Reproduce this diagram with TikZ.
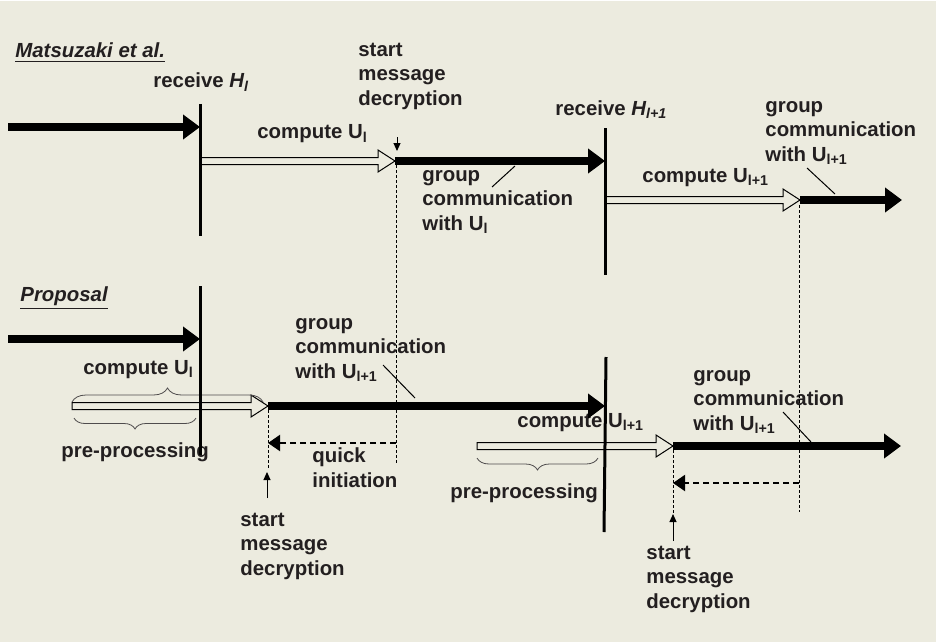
\documentclass[tikz,border=0pt]{standalone}
\usepackage{fontspec}
\setmainfont{Liberation Sans}
\usetikzlibrary{arrows.meta,calc,decorations.pathreplacing}
\definecolor{bgc}{HTML}{ECEBDF}
\definecolor{ink}{HTML}{231F20}
\newcommand\hollowarr[2]{\draw[line width=0.5pt,line join=miter]
  ($(#1)+(0,-3.5)$) -- ($(#2)+(-17,-3.5)$) -- ($(#2)+(-17,-11)$) -- (#2)
  -- ($(#2)+(-17,11)$) -- ($(#2)+(-17,3.5)$) -- ($(#1)+(0,3.5)$) -- cycle;}
\tikzset{
  lbl/.style={font=\fontsize{10.2}{12.2}\selectfont\bfseries, text=ink, inner sep=0pt, anchor=base west, align=left},
  ttl/.style={font=\fontsize{10.2}{12.2}\selectfont\bfseries\itshape, text=ink, inner sep=0pt, anchor=base west},
  thickarr/.style={line width=4.3pt, -{Triangle[length=8.5pt,width=12pt]}},
  bar/.style={line width=1.5pt},
  guide/.style={line width=0.5pt, dash pattern=on 1.5pt off 1pt},
  backarr/.style={line width=1pt, dash pattern=on 3pt off 2pt, -{Triangle[length=6pt,width=8pt]}},
  ptr/.style={line width=0.5pt, -{Triangle[length=4pt,width=3.5pt]}},
  leader/.style={line width=0.5pt},
  brc/.style={line width=0.4pt, draw=ink!80, decorate, decoration={brace, amplitude=#1}},
}
\begin{document}
\begin{tikzpicture}[x=0.5pt,y=-0.5pt]
\useasboundingbox (0,0) rectangle (936,642);
\fill[bgc] (0,0) rectangle (936,642);
\fill[white] (0,0) rectangle (936,1.5);

% ---------- coordinates: Matsuzaki et al. ----------
\coordinate (a1s) at (8,127);   \coordinate (a1e) at (200,127);
\coordinate (v1t) at (200,104); \coordinate (v1b) at (200,236);
\coordinate (h1s) at (200,161); \coordinate (h1e) at (395,161);
\coordinate (t2s) at (395,161); \coordinate (t2e) at (605,161);
\coordinate (v2t) at (605,128); \coordinate (v2b) at (605,275);
\coordinate (h2s) at (605,200); \coordinate (h2e) at (800,200);
\coordinate (t3s) at (800,200); \coordinate (t3e) at (902,200);
\coordinate (g1t) at (396,165); \coordinate (g1b) at (396,463);
\coordinate (g2t) at (799,205); \coordinate (g2b) at (799,512);
\coordinate (p1s) at (397,137); \coordinate (p1e) at (397,151);
\coordinate (l1s) at (492,187); \coordinate (l1e) at (515,166);
\coordinate (l2s) at (807,168); \coordinate (l2e) at (835,194);

% ---------- coordinates: Proposal ----------
\coordinate (a4s) at (8,339);   \coordinate (a4e) at (200,339);
\coordinate (v3t) at (200,286); \coordinate (v3b) at (200,455);
\coordinate (h3s) at (72,406);  \coordinate (h3e) at (268,406);
\coordinate (t5s) at (268,406); \coordinate (t5e) at (605,406);
\coordinate (v4t) at (606,357); \coordinate (v4b) at (604,532);
\coordinate (h4s) at (477,446); \coordinate (h4e) at (673,446);
\coordinate (t7s) at (673,446); \coordinate (t7e) at (901,446);
\coordinate (d1t) at (268,410); \coordinate (d1b) at (268,470);
\coordinate (d2t) at (673,450); \coordinate (d2b) at (673,513);
\coordinate (q1s) at (396,443); \coordinate (q1e) at (268,443);
\coordinate (q2s) at (799,483); \coordinate (q2e) at (673,483);
\coordinate (p2s) at (267,498); \coordinate (p2e) at (267,472);
\coordinate (p3s) at (673,541); \coordinate (p3e) at (673,514);
\coordinate (l3s) at (383,365); \coordinate (l3e) at (415,398);
\coordinate (l4s) at (783,412); \coordinate (l4e) at (811,442);
\coordinate (b1s) at (72,402);  \coordinate (b1e) at (263,402);
\coordinate (b2s) at (196,418); \coordinate (b2e) at (74,418);
\coordinate (b3s) at (598,458); \coordinate (b3e) at (477,458);

% ---------- labels (multi-line nodes are placed by their last baseline) ----------
\node[ttl] (mt) at (15,58) {\underline{Matsuzaki et al.}};
\node[lbl] (rh1) at (153,88) {receive \textit{H\textsubscript{l}}};
\node[lbl] (sm1) at (358,105) {start\\message\\decryption};
\node[lbl] (cu1) at (257,139) {compute U\textsubscript{l}};
\node[lbl] (gc1) at (422,230) {group\\communication\\with U\textsubscript{l}};
\node[lbl] (rh2) at (555,115) {receive \textit{H\textsubscript{l+1}}};
\node[lbl] (cu2) at (642,182) {compute U\textsubscript{l+1}};
\node[lbl] (gc2) at (765,161) {group\\communication\\with U\textsubscript{l+1}};

\node[ttl] (pr) at (20,301) {\underline{Proposal}};
\node[lbl] (cu3) at (83,374) {compute U\textsubscript{l}};
\node[lbl] (pp1) at (61,457) {pre-processing};
\node[lbl] (gc3) at (295,378) {group\\communication\\with U\textsubscript{l+1}};
\node[lbl] (qi) at (312,487) {quick\\initiation};
\node[lbl] (sm2) at (240,575) {start\\message\\decryption};
\node[lbl] (cu4) at (517,427) {compute U\textsubscript{l+1}};
\node[lbl] (pp2) at (450,498) {pre-processing};
\node[lbl] (gc4) at (693,430) {group\\communication\\with U\textsubscript{l+1}};
\node[lbl] (sm3) at (646,608) {start\\message\\decryption};

% ---------- top timeline ----------
\draw[thickarr] (a1s) -- (a1e);
\hollowarr{h1s}{h1e}
\draw[thickarr] (t2s) -- (t2e);
\hollowarr{h2s}{h2e}
\draw[thickarr] (t3s) -- (t3e);
\draw[bar] (v1t) -- (v1b);
\draw[bar] (v2t) -- (v2b);
\draw[ptr] (p1s) -- (p1e);
\draw[leader] (l1s) -- (l1e);
\draw[leader] (l2s) -- (l2e);

% ---------- bottom timeline ----------
\draw[thickarr] (a4s) -- (a4e);
\hollowarr{h3s}{h3e}
\draw[thickarr] (t5s) -- (t5e);
\hollowarr{h4s}{h4e}
\draw[thickarr] (t7s) -- (t7e);
\draw[brc=7pt] (b1s) -- (b1e);
\draw[brc=5.5pt] (b2s) -- (b2e);
\draw[brc=6pt] (b3s) -- (b3e);
\draw[bar] (v3t) -- (v3b);
\draw[bar] (v4t) -- (v4b);
\draw[backarr] (q1s) -- (q1e);
\draw[backarr] (q2s) -- (q2e);
\draw[ptr] (p2s) -- (p2e);
\draw[ptr] (p3s) -- (p3e);
\draw[leader] (l3s) -- (l3e);
\draw[leader] (l4s) -- (l4e);

% ---------- guide lines ----------
\draw[guide] (g1t) -- (g1b);
\draw[guide] (g2t) -- (g2b);
\draw[guide] (d1t) -- (d1b);
\draw[guide] (d2t) -- (d2b);
\end{tikzpicture}
\end{document}
